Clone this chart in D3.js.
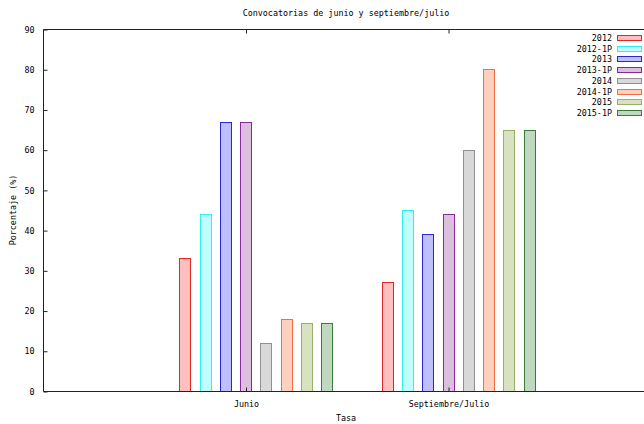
<!DOCTYPE html>
<html><head><meta charset="utf-8">
<script src="https://cdn.jsdelivr.net/npm/d3@7/dist/d3.min.js"></script>
<style>
body{margin:0;background:#fff;}
svg{display:block;}
text{font-family:"DejaVu Sans Mono",monospace;font-size:8.4px;fill:#000;}
</style></head><body>
<script>
const categories = ["Junio", "Septiembre/Julio"];
const seriesNames = ["2012", "2012-1P", "2013", "2013-1P", "2014", "2014-1P", "2015", "2015-1P"];
const junio = [33, 44, 67, 67, 12, 18, 17, 17];
const septiembre = [27, 45, 39, 44, 60, 80, 65, 65];
const yTicks = [0, 10, 20, 30, 40, 50, 60, 70, 80, 90];
const strokes = ["#e02828", "#30f0f0", "#2828d8", "#8a2a9a", "#909090", "#f07040", "#9aae68", "#3a7a3a"];
const fills = ["#ffbfbf", "#bfffff", "#bfbfff", "#dcbfdf", "#d8d8d8", "#ffd0bf", "#d8e2c0", "#c0d8c0"];

const W = 644, H = 424;
const svg = d3.select("body").append("svg").attr("width", W).attr("height", H);
const x = d3.scaleLinear().domain([-1, 2]).range([43, 650.5]);
const y = d3.scaleLinear().domain([0, 90]).range([391, 29]);

const values = [junio, septiembre];
const g = svg.append("g");

// bars
values.forEach((vals, ci) => {
  vals.forEach((v, j) => {
    const cx = ci + (j - 3) * 0.1;
    const x0 = x(cx - 0.027), x1 = x(cx + 0.027);
    g.append("rect")
      .attr("x", Math.round(x0) + 0.5)
      .attr("y", Math.round(y(v)) + 0.5)
      .attr("width", Math.round(x1 - x0))
      .attr("height", Math.round(y(0) - y(v)))
      .attr("fill", fills[j]).attr("stroke", strokes[j]).attr("stroke-width", 1);
  });
});

// frame
const frame = svg.append("g").attr("stroke", "#222").attr("fill", "none").attr("stroke-width", 1);
frame.append("line").attr("x1", 43.5).attr("x2", 644).attr("y1", 29.5).attr("y2", 29.5);
frame.append("line").attr("x1", 43.5).attr("x2", 644).attr("y1", 391.5).attr("y2", 391.5);
frame.append("line").attr("x1", 43.5).attr("x2", 43.5).attr("y1", 29.5).attr("y2", 391.5);

// y axis
const ya = svg.append("g").attr("transform", "translate(43.5,0.5)")
  .call(d3.axisLeft(y).tickValues(yTicks).tickSize(-4).tickPadding(9).tickFormat(d3.format("d")));
ya.select(".domain").remove();
ya.selectAll("line").attr("stroke", "#222");
ya.selectAll("text").style("font-family", "DejaVu Sans Mono").style("font-size", "8.4px").attr("fill", "#000");

// x axis bottom
const xa = svg.append("g").attr("transform", "translate(0.5,391.5)")
  .call(d3.axisBottom(x).tickValues([0, 1]).tickSize(-4).tickPadding(10).tickFormat(d => categories[d]));
xa.select(".domain").remove();
xa.selectAll("line").attr("stroke", "#222");
xa.selectAll("text").style("font-family", "DejaVu Sans Mono").style("font-size", "8.4px").attr("fill", "#000");
// x ticks top
const xt = svg.append("g").attr("transform", "translate(0.5,29.5)")
  .call(d3.axisTop(x).tickValues([0, 1]).tickSize(-4).tickFormat(""));
xt.select(".domain").remove();
xt.selectAll("line").attr("stroke", "#222");

// titles
svg.append("text").attr("x", 346).attr("y", 16).attr("text-anchor", "middle")
  .text("Convocatorias de junio y septiembre/julio");
svg.append("text").attr("x", 346).attr("y", 421).attr("text-anchor", "middle").text("Tasa");
svg.append("text").attr("transform", "translate(16,210) rotate(-90)").attr("text-anchor", "middle")
  .text("Porcentaje (%)");

// legend
const lg = svg.append("g");
seriesNames.forEach((n, j) => {
  const cy = 38 + j * 10.7;
  lg.append("text").attr("x", 612).attr("y", cy + 3).attr("text-anchor", "end").text(n);
  lg.append("rect").attr("x", 617.5).attr("y", Math.round(cy - 3) + 0.5).attr("width", 24).attr("height", 5)
    .attr("fill", fills[j]).attr("stroke", strokes[j]);
});
</script>
</body></html>
